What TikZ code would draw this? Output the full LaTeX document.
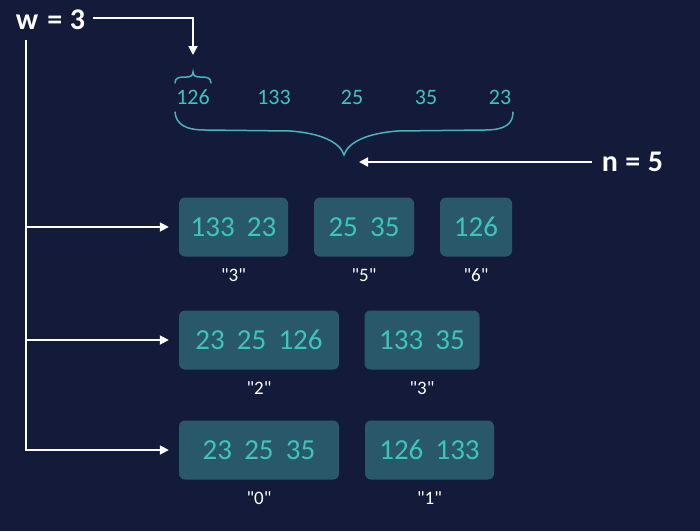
\documentclass[tikz,border=0pt]{standalone}
\usepackage{fontspec}
\setmainfont{Carlito}
\usetikzlibrary{arrows.meta, positioning}
\definecolor{NightNavy}{HTML}{141B3A}
\definecolor{BucketTeal}{HTML}{285869}
\definecolor{DigitTeal}{HTML}{3DC4BD}
\definecolor{BraceTeal}{HTML}{49B3BB}
\newcommand{\numgap}{\hspace{0.42em}}
\tikzset{
  bucket/.style={fill=BucketTeal, rounded corners=6pt, minimum height=59pt, inner sep=0pt,
    text=DigitTeal, font=\fontsize{29pt}{29pt}\selectfont},
  tag/.style={text=white, inner sep=0pt, font=\fontsize{19pt}{19pt}\selectfont},
  item/.style={text=DigitTeal, inner sep=0pt, font=\fontsize{22pt}{22pt}\selectfont},
  param/.style={text=white, inner sep=0pt, font=\bfseries\fontsize{30pt}{30pt}\selectfont},
  arr/.style={-{Triangle[length=9pt,width=9pt]}, white, line width=1.8pt},
  curly/.style={BraceTeal, line width=1.5pt, line cap=round}
}

\begin{document}
\begin{tikzpicture}[x=1pt, y=-1pt]
  \fill[NightNavy] (0,0) rectangle (700,531);
  % parameters
  \node[param] (w) at (50.5,20) {w\hspace{0.3em}=\hspace{0.25em}3};
  \node[param] (n) at (632.5,162) {n\hspace{0.25em}=\hspace{0.25em}5};
  % input sequence
  \foreach \x/\v/\i in {193/126/1, 274/133/2, 352/25/3, 426/35/4, 500/23/5}{
    \node[item] (s\i) at (\x,97.5) {\v};
  }
  % braces
  \draw[curly] (175,83) .. controls (175,77) and (180,77) .. (186,77)
    .. controls (190,77) and (193,76) .. (193,72)
    .. controls (193,76) and (196,77) .. (200,77)
    .. controls (206,77) and (211,77) .. (211,83);
  \draw[curly] (175,112) .. controls (176,124) and (185,130) .. (205,130) -- (290,131)
    .. controls (320,133) and (340,142) .. (344,155)
    .. controls (348,142) and (368,133) .. (398,131) -- (485,130)
    .. controls (505,130) and (513,124) .. (513,112);
  \coordinate (wtip) at (193,55);
  \coordinate (ntip) at (359,162);
  \coordinate (trunk) at (26,40);
  \draw[arr] ([xshift=8pt,yshift=2pt]w.east) -| (wtip);
  \draw[arr] ([xshift=-10pt]n.west) -- (ntip);
  % buckets
  \node[bucket, minimum width=109pt] (a1) at (233.5,227) {133\numgap23};
  \node[bucket, minimum width=100pt] (a2) at (364,227) {25\numgap35};
  \node[bucket, minimum width=72pt] (a3) at (476,227) {126};
  \node[bucket, minimum width=160pt] (b1) at (259,340) {23\numgap25\numgap126};
  \node[bucket, minimum width=115pt] (b2) at (422,340) {133\numgap35};
  \node[bucket, minimum width=160pt] (c1) at (259,450) {23\numgap25\numgap35};
  \node[bucket, minimum width=129pt] (c2) at (429.5,450) {126\numgap133};
  \foreach \b/\t in {a1/3, a2/5, a3/6, b1/2, b2/3, c1/0, c2/1}{
    \node[tag, below=12pt of \b] (t\b) {\textquotedbl\t\textquotedbl};
  }
  \foreach \b in {a1,b1,c1}{
    \draw[arr, shorten >=10pt] (trunk) |- (\b.west);
  }
\end{tikzpicture}
\end{document}
